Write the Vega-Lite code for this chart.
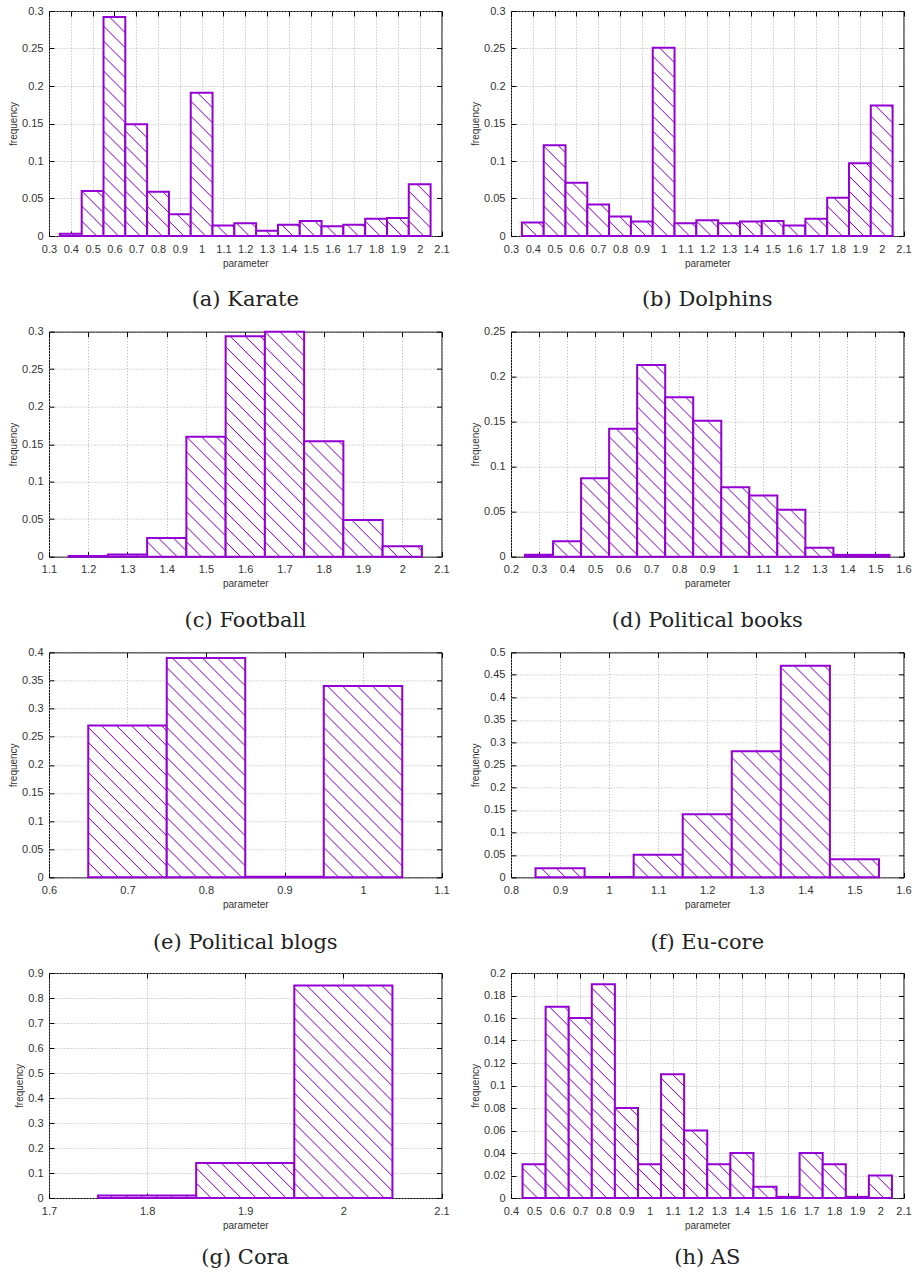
{
  "$schema": "https://vega.github.io/schema/vega-lite/v6.json",
  "background": "white",
  "padding": {"left": 8, "top": 4, "right": 5, "bottom": 5},
  "params": [
    {"name": "hs", "value": [
      {"offset": 0, "color": "#9400d3"}, {"offset": 0.003, "color": "#ffffff"},
      {"offset": 0.0387, "color": "#ffffff"}, {"offset": 0.0417, "color": "#9400d3"}, {"offset": 0.0447, "color": "#ffffff"},
      {"offset": 0.0803, "color": "#ffffff"}, {"offset": 0.0833, "color": "#9400d3"}, {"offset": 0.0863, "color": "#ffffff"},
      {"offset": 0.122, "color": "#ffffff"}, {"offset": 0.125, "color": "#9400d3"}, {"offset": 0.128, "color": "#ffffff"},
      {"offset": 0.1637, "color": "#ffffff"}, {"offset": 0.1667, "color": "#9400d3"}, {"offset": 0.1697, "color": "#ffffff"},
      {"offset": 0.2053, "color": "#ffffff"}, {"offset": 0.2083, "color": "#9400d3"}, {"offset": 0.2113, "color": "#ffffff"},
      {"offset": 0.247, "color": "#ffffff"}, {"offset": 0.25, "color": "#9400d3"}, {"offset": 0.253, "color": "#ffffff"},
      {"offset": 0.2887, "color": "#ffffff"}, {"offset": 0.2917, "color": "#9400d3"}, {"offset": 0.2947, "color": "#ffffff"},
      {"offset": 0.3303, "color": "#ffffff"}, {"offset": 0.3333, "color": "#9400d3"}, {"offset": 0.3363, "color": "#ffffff"},
      {"offset": 0.372, "color": "#ffffff"}, {"offset": 0.375, "color": "#9400d3"}, {"offset": 0.378, "color": "#ffffff"},
      {"offset": 0.4137, "color": "#ffffff"}, {"offset": 0.4167, "color": "#9400d3"}, {"offset": 0.4197, "color": "#ffffff"},
      {"offset": 0.4553, "color": "#ffffff"}, {"offset": 0.4583, "color": "#9400d3"}, {"offset": 0.4613, "color": "#ffffff"},
      {"offset": 0.497, "color": "#ffffff"}, {"offset": 0.5, "color": "#9400d3"}, {"offset": 0.503, "color": "#ffffff"},
      {"offset": 0.5387, "color": "#ffffff"}, {"offset": 0.5417, "color": "#9400d3"}, {"offset": 0.5447, "color": "#ffffff"},
      {"offset": 0.5803, "color": "#ffffff"}, {"offset": 0.5833, "color": "#9400d3"}, {"offset": 0.5863, "color": "#ffffff"},
      {"offset": 0.622, "color": "#ffffff"}, {"offset": 0.625, "color": "#9400d3"}, {"offset": 0.628, "color": "#ffffff"},
      {"offset": 0.6637, "color": "#ffffff"}, {"offset": 0.6667, "color": "#9400d3"}, {"offset": 0.6697, "color": "#ffffff"},
      {"offset": 0.7053, "color": "#ffffff"}, {"offset": 0.7083, "color": "#9400d3"}, {"offset": 0.7113, "color": "#ffffff"},
      {"offset": 0.747, "color": "#ffffff"}, {"offset": 0.75, "color": "#9400d3"}, {"offset": 0.753, "color": "#ffffff"},
      {"offset": 0.7887, "color": "#ffffff"}, {"offset": 0.7917, "color": "#9400d3"}, {"offset": 0.7947, "color": "#ffffff"},
      {"offset": 0.8303, "color": "#ffffff"}, {"offset": 0.8333, "color": "#9400d3"}, {"offset": 0.8363, "color": "#ffffff"},
      {"offset": 0.872, "color": "#ffffff"}, {"offset": 0.875, "color": "#9400d3"}, {"offset": 0.878, "color": "#ffffff"},
      {"offset": 0.9137, "color": "#ffffff"}, {"offset": 0.9167, "color": "#9400d3"}, {"offset": 0.9197, "color": "#ffffff"},
      {"offset": 0.9553, "color": "#ffffff"}, {"offset": 0.9583, "color": "#9400d3"}, {"offset": 0.9613, "color": "#ffffff"},
      {"offset": 0.997, "color": "#ffffff"}, {"offset": 1, "color": "#9400d3"}
    ]}
  ],
  "datasets": {
    "karate": [
      {"lo": 0.35, "hi": 0.45, "freq": 0.003},
      {"lo": 0.45, "hi": 0.55, "freq": 0.06},
      {"lo": 0.55, "hi": 0.65, "freq": 0.292},
      {"lo": 0.65, "hi": 0.75, "freq": 0.149},
      {"lo": 0.75, "hi": 0.85, "freq": 0.059},
      {"lo": 0.85, "hi": 0.95, "freq": 0.029},
      {"lo": 0.95, "hi": 1.05, "freq": 0.191},
      {"lo": 1.05, "hi": 1.15, "freq": 0.014},
      {"lo": 1.15, "hi": 1.25, "freq": 0.017},
      {"lo": 1.25, "hi": 1.35, "freq": 0.007},
      {"lo": 1.35, "hi": 1.45, "freq": 0.015},
      {"lo": 1.45, "hi": 1.55, "freq": 0.02},
      {"lo": 1.55, "hi": 1.65, "freq": 0.013},
      {"lo": 1.65, "hi": 1.75, "freq": 0.015},
      {"lo": 1.75, "hi": 1.85, "freq": 0.023},
      {"lo": 1.85, "hi": 1.95, "freq": 0.024},
      {"lo": 1.95, "hi": 2.05, "freq": 0.069}
    ],
    "dolphins": [
      {"lo": 0.35, "hi": 0.45, "freq": 0.018},
      {"lo": 0.45, "hi": 0.55, "freq": 0.121},
      {"lo": 0.55, "hi": 0.65, "freq": 0.071},
      {"lo": 0.65, "hi": 0.75, "freq": 0.042},
      {"lo": 0.75, "hi": 0.85, "freq": 0.026},
      {"lo": 0.85, "hi": 0.95, "freq": 0.0195},
      {"lo": 0.95, "hi": 1.05, "freq": 0.251},
      {"lo": 1.05, "hi": 1.15, "freq": 0.017},
      {"lo": 1.15, "hi": 1.25, "freq": 0.021},
      {"lo": 1.25, "hi": 1.35, "freq": 0.017},
      {"lo": 1.35, "hi": 1.45, "freq": 0.0195},
      {"lo": 1.45, "hi": 1.55, "freq": 0.02},
      {"lo": 1.55, "hi": 1.65, "freq": 0.014},
      {"lo": 1.65, "hi": 1.75, "freq": 0.023},
      {"lo": 1.75, "hi": 1.85, "freq": 0.051},
      {"lo": 1.85, "hi": 1.95, "freq": 0.097},
      {"lo": 1.95, "hi": 2.05, "freq": 0.174}
    ],
    "football": [
      {"lo": 1.15, "hi": 1.25, "freq": 0.001},
      {"lo": 1.25, "hi": 1.35, "freq": 0.003},
      {"lo": 1.35, "hi": 1.45, "freq": 0.025},
      {"lo": 1.45, "hi": 1.55, "freq": 0.16},
      {"lo": 1.55, "hi": 1.65, "freq": 0.294},
      {"lo": 1.65, "hi": 1.75, "freq": 0.3},
      {"lo": 1.75, "hi": 1.85, "freq": 0.154},
      {"lo": 1.85, "hi": 1.95, "freq": 0.049},
      {"lo": 1.95, "hi": 2.05, "freq": 0.014}
    ],
    "polbooks": [
      {"lo": 0.25, "hi": 0.35, "freq": 0.002},
      {"lo": 0.35, "hi": 0.45, "freq": 0.017},
      {"lo": 0.45, "hi": 0.55, "freq": 0.087},
      {"lo": 0.55, "hi": 0.65, "freq": 0.142},
      {"lo": 0.65, "hi": 0.75, "freq": 0.213},
      {"lo": 0.75, "hi": 0.85, "freq": 0.177},
      {"lo": 0.85, "hi": 0.95, "freq": 0.151},
      {"lo": 0.95, "hi": 1.05, "freq": 0.077},
      {"lo": 1.05, "hi": 1.15, "freq": 0.068},
      {"lo": 1.15, "hi": 1.25, "freq": 0.052},
      {"lo": 1.25, "hi": 1.35, "freq": 0.01},
      {"lo": 1.35, "hi": 1.45, "freq": 0.002},
      {"lo": 1.45, "hi": 1.55, "freq": 0.002}
    ],
    "polblogs": [
      {"lo": 0.65, "hi": 0.75, "freq": 0.27},
      {"lo": 0.75, "hi": 0.85, "freq": 0.39},
      {"lo": 0.85, "hi": 0.95, "freq": 0.001},
      {"lo": 0.95, "hi": 1.05, "freq": 0.34}
    ],
    "eucore": [
      {"lo": 0.85, "hi": 0.95, "freq": 0.02},
      {"lo": 0.95, "hi": 1.05, "freq": 0.001},
      {"lo": 1.05, "hi": 1.15, "freq": 0.05},
      {"lo": 1.15, "hi": 1.25, "freq": 0.14},
      {"lo": 1.25, "hi": 1.35, "freq": 0.28},
      {"lo": 1.35, "hi": 1.45, "freq": 0.47},
      {"lo": 1.45, "hi": 1.55, "freq": 0.04}
    ],
    "cora": [
      {"lo": 1.75, "hi": 1.85, "freq": 0.01},
      {"lo": 1.85, "hi": 1.95, "freq": 0.14},
      {"lo": 1.95, "hi": 2.05, "freq": 0.85}
    ],
    "as": [
      {"lo": 0.45, "hi": 0.55, "freq": 0.03},
      {"lo": 0.55, "hi": 0.65, "freq": 0.17},
      {"lo": 0.65, "hi": 0.75, "freq": 0.16},
      {"lo": 0.75, "hi": 0.85, "freq": 0.19},
      {"lo": 0.85, "hi": 0.95, "freq": 0.08},
      {"lo": 0.95, "hi": 1.05, "freq": 0.03},
      {"lo": 1.05, "hi": 1.15, "freq": 0.11},
      {"lo": 1.15, "hi": 1.25, "freq": 0.06},
      {"lo": 1.25, "hi": 1.35, "freq": 0.03},
      {"lo": 1.35, "hi": 1.45, "freq": 0.04},
      {"lo": 1.45, "hi": 1.55, "freq": 0.01},
      {"lo": 1.55, "hi": 1.65, "freq": 0.001},
      {"lo": 1.65, "hi": 1.75, "freq": 0.04},
      {"lo": 1.75, "hi": 1.85, "freq": 0.03},
      {"lo": 1.85, "hi": 1.95, "freq": 0.001},
      {"lo": 1.95, "hi": 2.05, "freq": 0.02}
    ]
  },
  "bounds": "flush",
  "columns": 2,
  "spacing": {"row": 95.67, "column": 69},
  "concat": [
    {
      "title": {"text": "(a) Karate", "offset": 21},
      "width": 392.5, "height": 225,
      "data": {"name": "karate"},
      "layer": [
        {"mark": {"type": "bar", "fill": {"expr": "{gradient:'linear',x1:0,y1:1,x2:360*21.806/(475.5+pow(datum.freq*750,2)),y2:1-360*datum.freq*750/(475.5+pow(datum.freq*750,2)),stops:hs}"}, "stroke": "#9400d3", "strokeWidth": 2},
         "encoding": {
           "x": {"field": "lo", "type": "quantitative", "scale": {"domain": [0.3, 2.1], "nice": false, "zero": false}, "axis": {"values": [0.3,0.4,0.5,0.6,0.7,0.8,0.9,1,1.1,1.2,1.3,1.4,1.5,1.6,1.7,1.8,1.9,2,2.1], "title": "parameter"}},
           "x2": {"field": "hi"},
           "y": {"field": "freq", "type": "quantitative", "scale": {"domain": [0, 0.3], "nice": false}, "axis": {"values": [0,0.05,0.1,0.15,0.2,0.25,0.3], "title": "frequency"}},
           "y2": {"datum": 0}
         }},
        {"mark": {"type": "point", "opacity": 0},
         "encoding": {
           "x": {"field": "lo", "type": "quantitative", "scale": {"domain": [0.3, 2.1], "nice": false, "zero": false}, "axis": {"orient": "top", "labels": false, "grid": false, "title": null, "values": [0.3,0.4,0.5,0.6,0.7,0.8,0.9,1,1.1,1.2,1.3,1.4,1.5,1.6,1.7,1.8,1.9,2,2.1]}},
           "y": {"field": "freq", "type": "quantitative", "scale": {"domain": [0, 0.3], "nice": false}, "axis": {"orient": "right", "labels": false, "grid": false, "title": null, "values": [0,0.05,0.1,0.15,0.2,0.25,0.3]}}
         }}
      ],
      "resolve": {"axis": {"x": "independent", "y": "independent"}}
    },
    {
      "title": {"text": "(b) Dolphins", "offset": 21},
      "width": 392.5, "height": 225,
      "data": {"name": "dolphins"},
      "layer": [
        {"mark": {"type": "bar", "fill": {"expr": "{gradient:'linear',x1:0,y1:1,x2:360*21.806/(475.5+pow(datum.freq*750,2)),y2:1-360*datum.freq*750/(475.5+pow(datum.freq*750,2)),stops:hs}"}, "stroke": "#9400d3", "strokeWidth": 2},
         "encoding": {
           "x": {"field": "lo", "type": "quantitative", "scale": {"domain": [0.3, 2.1], "nice": false, "zero": false}, "axis": {"values": [0.3,0.4,0.5,0.6,0.7,0.8,0.9,1,1.1,1.2,1.3,1.4,1.5,1.6,1.7,1.8,1.9,2,2.1], "title": "parameter"}},
           "x2": {"field": "hi"},
           "y": {"field": "freq", "type": "quantitative", "scale": {"domain": [0, 0.3], "nice": false}, "axis": {"values": [0,0.05,0.1,0.15,0.2,0.25,0.3], "title": "frequency"}},
           "y2": {"datum": 0}
         }},
        {"mark": {"type": "point", "opacity": 0},
         "encoding": {
           "x": {"field": "lo", "type": "quantitative", "scale": {"domain": [0.3, 2.1], "nice": false, "zero": false}, "axis": {"orient": "top", "labels": false, "grid": false, "title": null, "values": [0.3,0.4,0.5,0.6,0.7,0.8,0.9,1,1.1,1.2,1.3,1.4,1.5,1.6,1.7,1.8,1.9,2,2.1]}},
           "y": {"field": "freq", "type": "quantitative", "scale": {"domain": [0, 0.3], "nice": false}, "axis": {"orient": "right", "labels": false, "grid": false, "title": null, "values": [0,0.05,0.1,0.15,0.2,0.25,0.3]}}
         }}
      ],
      "resolve": {"axis": {"x": "independent", "y": "independent"}}
    },
    {
      "title": {"text": "(c) Football", "offset": 21},
      "width": 392.5, "height": 225,
      "data": {"name": "football"},
      "layer": [
        {"mark": {"type": "bar", "fill": {"expr": "{gradient:'linear',x1:0,y1:1,x2:360*39.25/(1540.6+pow(datum.freq*750,2)),y2:1-360*datum.freq*750/(1540.6+pow(datum.freq*750,2)),stops:hs}"}, "stroke": "#9400d3", "strokeWidth": 2},
         "encoding": {
           "x": {"field": "lo", "type": "quantitative", "scale": {"domain": [1.1, 2.1], "nice": false, "zero": false}, "axis": {"values": [1.1,1.2,1.3,1.4,1.5,1.6,1.7,1.8,1.9,2,2.1], "title": "parameter"}},
           "x2": {"field": "hi"},
           "y": {"field": "freq", "type": "quantitative", "scale": {"domain": [0, 0.3], "nice": false}, "axis": {"values": [0,0.05,0.1,0.15,0.2,0.25,0.3], "title": "frequency"}},
           "y2": {"datum": 0}
         }},
        {"mark": {"type": "point", "opacity": 0},
         "encoding": {
           "x": {"field": "lo", "type": "quantitative", "scale": {"domain": [1.1, 2.1], "nice": false, "zero": false}, "axis": {"orient": "top", "labels": false, "grid": false, "title": null, "values": [1.1,1.2,1.3,1.4,1.5,1.6,1.7,1.8,1.9,2,2.1]}},
           "y": {"field": "freq", "type": "quantitative", "scale": {"domain": [0, 0.3], "nice": false}, "axis": {"orient": "right", "labels": false, "grid": false, "title": null, "values": [0,0.05,0.1,0.15,0.2,0.25,0.3]}}
         }}
      ],
      "resolve": {"axis": {"x": "independent", "y": "independent"}}
    },
    {
      "title": {"text": "(d) Political books", "offset": 21},
      "width": 392.5, "height": 225,
      "data": {"name": "polbooks"},
      "layer": [
        {"mark": {"type": "bar", "fill": {"expr": "{gradient:'linear',x1:0,y1:1,x2:360*28.036/(786.0+pow(datum.freq*900,2)),y2:1-360*datum.freq*900/(786.0+pow(datum.freq*900,2)),stops:hs}"}, "stroke": "#9400d3", "strokeWidth": 2},
         "encoding": {
           "x": {"field": "lo", "type": "quantitative", "scale": {"domain": [0.2, 1.6], "nice": false, "zero": false}, "axis": {"values": [0.2,0.3,0.4,0.5,0.6,0.7,0.8,0.9,1,1.1,1.2,1.3,1.4,1.5,1.6], "title": "parameter"}},
           "x2": {"field": "hi"},
           "y": {"field": "freq", "type": "quantitative", "scale": {"domain": [0, 0.25], "nice": false}, "axis": {"values": [0,0.05,0.1,0.15,0.2,0.25], "title": "frequency"}},
           "y2": {"datum": 0}
         }},
        {"mark": {"type": "point", "opacity": 0},
         "encoding": {
           "x": {"field": "lo", "type": "quantitative", "scale": {"domain": [0.2, 1.6], "nice": false, "zero": false}, "axis": {"orient": "top", "labels": false, "grid": false, "title": null, "values": [0.2,0.3,0.4,0.5,0.6,0.7,0.8,0.9,1,1.1,1.2,1.3,1.4,1.5,1.6]}},
           "y": {"field": "freq", "type": "quantitative", "scale": {"domain": [0, 0.25], "nice": false}, "axis": {"orient": "right", "labels": false, "grid": false, "title": null, "values": [0,0.05,0.1,0.15,0.2,0.25]}}
         }}
      ],
      "resolve": {"axis": {"x": "independent", "y": "independent"}}
    },
    {
      "title": {"text": "(e) Political blogs", "offset": 23},
      "width": 392.5, "height": 225,
      "data": {"name": "polblogs"},
      "layer": [
        {"mark": {"type": "bar", "fill": {"expr": "{gradient:'linear',x1:0,y1:1,x2:360*78.5/(6162.25+pow(datum.freq*562.5,2)),y2:1-360*datum.freq*562.5/(6162.25+pow(datum.freq*562.5,2)),stops:hs}"}, "stroke": "#9400d3", "strokeWidth": 2},
         "encoding": {
           "x": {"field": "lo", "type": "quantitative", "scale": {"domain": [0.6, 1.1], "nice": false, "zero": false}, "axis": {"values": [0.6,0.7,0.8,0.9,1,1.1], "title": "parameter"}},
           "x2": {"field": "hi"},
           "y": {"field": "freq", "type": "quantitative", "scale": {"domain": [0, 0.4], "nice": false}, "axis": {"values": [0,0.05,0.1,0.15,0.2,0.25,0.3,0.35,0.4], "title": "frequency"}},
           "y2": {"datum": 0}
         }},
        {"mark": {"type": "point", "opacity": 0},
         "encoding": {
           "x": {"field": "lo", "type": "quantitative", "scale": {"domain": [0.6, 1.1], "nice": false, "zero": false}, "axis": {"orient": "top", "labels": false, "grid": false, "title": null, "values": [0.6,0.7,0.8,0.9,1,1.1]}},
           "y": {"field": "freq", "type": "quantitative", "scale": {"domain": [0, 0.4], "nice": false}, "axis": {"orient": "right", "labels": false, "grid": false, "title": null, "values": [0,0.05,0.1,0.15,0.2,0.25,0.3,0.35,0.4]}}
         }}
      ],
      "resolve": {"axis": {"x": "independent", "y": "independent"}}
    },
    {
      "title": {"text": "(f) Eu-core", "offset": 23},
      "width": 392.5, "height": 225,
      "data": {"name": "eucore"},
      "layer": [
        {"mark": {"type": "bar", "fill": {"expr": "{gradient:'linear',x1:0,y1:1,x2:360*49.06/(2406.9+pow(datum.freq*450,2)),y2:1-360*datum.freq*450/(2406.9+pow(datum.freq*450,2)),stops:hs}"}, "stroke": "#9400d3", "strokeWidth": 2},
         "encoding": {
           "x": {"field": "lo", "type": "quantitative", "scale": {"domain": [0.8, 1.6], "nice": false, "zero": false}, "axis": {"values": [0.8,0.9,1,1.1,1.2,1.3,1.4,1.5,1.6], "title": "parameter"}},
           "x2": {"field": "hi"},
           "y": {"field": "freq", "type": "quantitative", "scale": {"domain": [0, 0.5], "nice": false}, "axis": {"values": [0,0.05,0.1,0.15,0.2,0.25,0.3,0.35,0.4,0.45,0.5], "title": "frequency"}},
           "y2": {"datum": 0}
         }},
        {"mark": {"type": "point", "opacity": 0},
         "encoding": {
           "x": {"field": "lo", "type": "quantitative", "scale": {"domain": [0.8, 1.6], "nice": false, "zero": false}, "axis": {"orient": "top", "labels": false, "grid": false, "title": null, "values": [0.8,0.9,1,1.1,1.2,1.3,1.4,1.5,1.6]}},
           "y": {"field": "freq", "type": "quantitative", "scale": {"domain": [0, 0.5], "nice": false}, "axis": {"orient": "right", "labels": false, "grid": false, "title": null, "values": [0,0.05,0.1,0.15,0.2,0.25,0.3,0.35,0.4,0.45,0.5]}}
         }}
      ],
      "resolve": {"axis": {"x": "independent", "y": "independent"}}
    },
    {
      "title": {"text": "(g) Cora", "offset": 17},
      "width": 392.5, "height": 225,
      "data": {"name": "cora"},
      "layer": [
        {"mark": {"type": "bar", "fill": {"expr": "{gradient:'linear',x1:0,y1:1,x2:360*98.125/(9628.5+pow(datum.freq*250,2)),y2:1-360*datum.freq*250/(9628.5+pow(datum.freq*250,2)),stops:hs}"}, "stroke": "#9400d3", "strokeWidth": 2},
         "encoding": {
           "x": {"field": "lo", "type": "quantitative", "scale": {"domain": [1.7, 2.1], "nice": false, "zero": false}, "axis": {"values": [1.7,1.8,1.9,2,2.1], "title": "parameter"}},
           "x2": {"field": "hi"},
           "y": {"field": "freq", "type": "quantitative", "scale": {"domain": [0, 0.9], "nice": false}, "axis": {"values": [0,0.1,0.2,0.3,0.4,0.5,0.6,0.7,0.8,0.9], "title": "frequency"}},
           "y2": {"datum": 0}
         }},
        {"mark": {"type": "point", "opacity": 0},
         "encoding": {
           "x": {"field": "lo", "type": "quantitative", "scale": {"domain": [1.7, 2.1], "nice": false, "zero": false}, "axis": {"orient": "top", "labels": false, "grid": false, "title": null, "values": [1.7,1.8,1.9,2,2.1]}},
           "y": {"field": "freq", "type": "quantitative", "scale": {"domain": [0, 0.9], "nice": false}, "axis": {"orient": "right", "labels": false, "grid": false, "title": null, "values": [0,0.1,0.2,0.3,0.4,0.5,0.6,0.7,0.8,0.9]}}
         }}
      ],
      "resolve": {"axis": {"x": "independent", "y": "independent"}}
    },
    {
      "title": {"text": "(h) AS", "offset": 17},
      "width": 392.5, "height": 225,
      "data": {"name": "as"},
      "layer": [
        {"mark": {"type": "bar", "fill": {"expr": "{gradient:'linear',x1:0,y1:1,x2:360*23.088/(533.05+pow(datum.freq*1125,2)),y2:1-360*datum.freq*1125/(533.05+pow(datum.freq*1125,2)),stops:hs}"}, "stroke": "#9400d3", "strokeWidth": 2},
         "encoding": {
           "x": {"field": "lo", "type": "quantitative", "scale": {"domain": [0.4, 2.1], "nice": false, "zero": false}, "axis": {"values": [0.4,0.5,0.6,0.7,0.8,0.9,1,1.1,1.2,1.3,1.4,1.5,1.6,1.7,1.8,1.9,2,2.1], "title": "parameter"}},
           "x2": {"field": "hi"},
           "y": {"field": "freq", "type": "quantitative", "scale": {"domain": [0, 0.2], "nice": false}, "axis": {"values": [0,0.02,0.04,0.06,0.08,0.1,0.12,0.14,0.16,0.18,0.2], "title": "frequency"}},
           "y2": {"datum": 0}
         }},
        {"mark": {"type": "point", "opacity": 0},
         "encoding": {
           "x": {"field": "lo", "type": "quantitative", "scale": {"domain": [0.4, 2.1], "nice": false, "zero": false}, "axis": {"orient": "top", "labels": false, "grid": false, "title": null, "values": [0.4,0.5,0.6,0.7,0.8,0.9,1,1.1,1.2,1.3,1.4,1.5,1.6,1.7,1.8,1.9,2,2.1]}},
           "y": {"field": "freq", "type": "quantitative", "scale": {"domain": [0, 0.2], "nice": false}, "axis": {"orient": "right", "labels": false, "grid": false, "title": null, "values": [0,0.02,0.04,0.06,0.08,0.1,0.12,0.14,0.16,0.18,0.2]}}
         }}
      ],
      "resolve": {"axis": {"x": "independent", "y": "independent"}}
    }
  ],
  "config": {
    "view": {"stroke": "#000000", "strokeWidth": 1},
    "axis": {
      "domain": false,
      "grid": true,
      "gridColor": "#b0b0b0",
      "gridDash": [1, 2],
      "gridWidth": 1,
      "ticks": true,
      "tickSize": -5,
      "tickColor": "#000000",
      "tickWidth": 1,
      "format": "~g",
      "labelOverlap": false,
      "labelFlush": false,
      "labelFont": "Liberation Sans",
      "labelFontSize": 11,
      "labelColor": "#333333",
      "titleFont": "Liberation Sans",
      "titleFontSize": 10,
      "titleFontWeight": "normal",
      "titleColor": "#333333"
    },
    "axisX": {"labelPadding": 12, "titlePadding": 4},
    "axisY": {"labelPadding": 11, "titlePadding": 3},
    "title": {"font": "DejaVu Serif", "fontSize": 21, "fontWeight": "normal", "color": "#222222", "orient": "bottom", "anchor": "middle"}
  }
}
